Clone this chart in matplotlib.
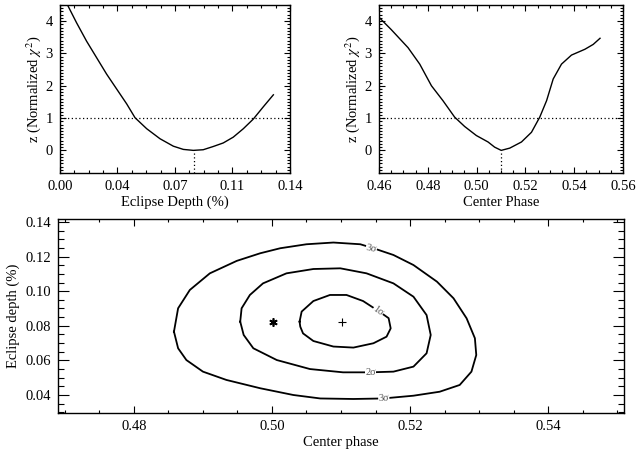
import numpy as np
import matplotlib.pyplot as plt
from matplotlib.ticker import MultipleLocator, FixedLocator

plt.rcParams['font.family'] = ['Liberation Serif', 'DejaVu Serif']
plt.rcParams['mathtext.fontset'] = 'stix'
plt.rcParams['font.size'] = 10.5

# chi^2 vs eclipse depth
depth = [0.0045, 0.0101, 0.0162, 0.0223, 0.0284, 0.0345, 0.0406, 0.0457,
         0.0528, 0.0609, 0.0690, 0.0751, 0.0812, 0.0872, 0.0933, 0.0994,
         0.1055, 0.1116, 0.1177, 0.1238, 0.1299]
z_depth = [4.51, 3.95, 3.38, 2.87, 2.36, 1.90, 1.44, 1.01,
           0.67, 0.36, 0.13, 0.03, 0.00, 0.02, 0.12, 0.23,
           0.41, 0.67, 0.97, 1.35, 1.72]

# chi^2 vs center phase
phase = [0.4600, 0.4650, 0.4719, 0.4767, 0.4815, 0.4862, 0.4910, 0.4951,
         0.4999, 0.5047, 0.5074, 0.5101, 0.5136, 0.5184, 0.5225, 0.5259,
         0.5287, 0.5314, 0.5348, 0.5389, 0.5444, 0.5478, 0.5506]
z_phase = [4.12, 3.74, 3.18, 2.67, 2.00, 1.54, 1.03, 0.74,
           0.46, 0.26, 0.10, 0.00, 0.07, 0.26, 0.56, 1.03,
           1.54, 2.21, 2.67, 2.95, 3.13, 3.28, 3.47]

best_depth = 0.0818
best_phase = 0.5101

# confidence contours (center phase, eclipse depth %)
c3_x = [0.4858, 0.4864, 0.4881, 0.4910, 0.4949, 0.4983, 0.5012, 0.5050, 0.5089,
        0.5128, 0.5147, 0.5176, 0.5205, 0.5239, 0.5263, 0.5282, 0.5294, 0.5296,
        0.5289, 0.5272, 0.5243, 0.5205, 0.5161, 0.5118, 0.5070, 0.5031, 0.4983,
        0.4934, 0.4900, 0.4876, 0.4864, 0.4858]
c3_y = [0.0766, 0.0901, 0.1007, 0.1103, 0.1175, 0.1219, 0.1248, 0.1271, 0.1281,
        0.1271, 0.1248, 0.1209, 0.1151, 0.1055, 0.0959, 0.0843, 0.0728, 0.0631,
        0.0535, 0.0458, 0.0419, 0.0396, 0.0380, 0.0377, 0.0380, 0.0400, 0.0439,
        0.0487, 0.0535, 0.0602, 0.0670, 0.0766]
c2_x = [0.4954, 0.4956, 0.4968, 0.4987, 0.5021, 0.5060, 0.5099, 0.5137, 0.5176,
        0.5205, 0.5224, 0.5230, 0.5224, 0.5205, 0.5176, 0.5142, 0.5103, 0.5055,
        0.5007, 0.4973, 0.4959, 0.4954]
c2_y = [0.0824, 0.0901, 0.0978, 0.1045, 0.1103, 0.1128, 0.1132, 0.1103, 0.1045,
        0.0968, 0.0862, 0.0747, 0.0641, 0.0564, 0.0535, 0.0531, 0.0531, 0.0550,
        0.0602, 0.0670, 0.0747, 0.0824]
c1_x = [0.5040, 0.5043, 0.5060, 0.5084, 0.5108, 0.5132, 0.5154, 0.5169, 0.5172,
        0.5166, 0.5147, 0.5118, 0.5089, 0.5060, 0.5045, 0.5041, 0.5040]
c1_y = [0.0824, 0.0882, 0.0943, 0.0978, 0.0978, 0.0943, 0.0886, 0.0844, 0.0785,
        0.0737, 0.0699, 0.0674, 0.0680, 0.0712, 0.0756, 0.0795, 0.0824]

# contour label positions
lab_x = [0.5144, 0.5154, 0.5143, 0.5162]
lab_y = [0.1248, 0.0886, 0.0531, 0.0380]
lab_txt = ['3σ', '1σ', '2σ', '3σ']
lab_rot = [-12, -35, 0, 2]

star_pt = (0.5001, 0.0824)
plus_pt = (0.5101, 0.0824)


def idl_style(ax, majlen, minlen):
    ax.tick_params(which='both', direction='in', top=True, right=True,
                   width=0.8, labelsize=10.5, pad=5)
    ax.tick_params(which='major', length=majlen)
    ax.tick_params(which='minor', length=minlen)
    for s in ax.spines.values():
        s.set_linewidth(1.0)


fig = plt.figure(figsize=(6.36, 4.55), dpi=100)

# top left
ax1 = fig.add_axes([0.0943, 0.6198, 0.3616, 0.3692])
ax1.plot(depth, z_depth, color='black', lw=1.0)
ax1.axhline(1, color='black', lw=0.9, ls=(0, (1, 2)))
ax1.plot([best_depth, best_depth], [-0.7, 0], color='black', lw=0.9, ls=(0, (1, 2)))
ax1.set_xlim(0, 0.14)
ax1.set_ylim(-0.7, 4.5)
ax1.xaxis.set_major_locator(FixedLocator([0, 0.035, 0.07, 0.105, 0.14]))
ax1.set_xticklabels(['0.00', '0.04', '0.07', '0.11', '0.14'])
ax1.xaxis.set_minor_locator(MultipleLocator(0.00875))
ax1.yaxis.set_major_locator(MultipleLocator(1))
ax1.yaxis.set_minor_locator(MultipleLocator(0.1))
idl_style(ax1, 4, 2)
ax1.set_xlabel('Eclipse Depth (%)', labelpad=2)
ax1.set_ylabel(r'z (Normalized $\chi^2$)', labelpad=2)

# top right
ax2 = fig.add_axes([0.5959, 0.6198, 0.3836, 0.3692])
ax2.plot(phase, z_phase, color='black', lw=1.0)
ax2.axhline(1, color='black', lw=0.9, ls=(0, (1, 2)))
ax2.plot([best_phase, best_phase], [-0.7, 0], color='black', lw=0.9, ls=(0, (1, 2)))
ax2.set_xlim(0.46, 0.56)
ax2.set_ylim(-0.7, 4.5)
ax2.xaxis.set_major_locator(MultipleLocator(0.02))
ax2.xaxis.set_major_formatter(plt.FormatStrFormatter('%.2f'))
ax2.xaxis.set_minor_locator(MultipleLocator(0.005))
ax2.yaxis.set_major_locator(MultipleLocator(1))
ax2.yaxis.set_minor_locator(MultipleLocator(0.1))
idl_style(ax2, 4, 2)
ax2.set_xlabel('Center Phase', labelpad=2)
ax2.set_ylabel(r'z (Normalized $\chi^2$)', labelpad=2)

# bottom contour plot
ax3 = fig.add_axes([0.0912, 0.0923, 0.8899, 0.4264])
for cx, cy in [(c3_x, c3_y), (c2_x, c2_y), (c1_x, c1_y)]:
    ax3.plot(cx, cy, color='black', lw=1.3, solid_joinstyle='round')
for x, y, t, r in zip(lab_x, lab_y, lab_txt, lab_rot):
    ax3.text(x, y, t, fontsize=7.5, color='#555555', rotation=r,
             ha='center', va='center',
             bbox=dict(facecolor='white', edgecolor='none', pad=0.2))
ax3.plot(*star_pt, marker=(6, 2, 0), color='black', ms=6, mew=1.2)
ax3.plot(*plus_pt, marker='+', color='black', ms=6, mew=0.8)
ax3.set_xlim(0.469, 0.551)
ax3.set_ylim(0.0296, 0.1417)
ax3.xaxis.set_major_locator(MultipleLocator(0.02))
ax3.xaxis.set_major_formatter(plt.FormatStrFormatter('%.2f'))
ax3.xaxis.set_minor_locator(MultipleLocator(0.005))
ax3.yaxis.set_major_locator(MultipleLocator(0.02))
ax3.yaxis.set_major_formatter(plt.FormatStrFormatter('%.2f'))
ax3.yaxis.set_minor_locator(MultipleLocator(0.005))
idl_style(ax3, 5, 2.5)
ax3.tick_params(axis='y', which='major', length=8)
ax3.tick_params(axis='y', which='minor', length=4)
ax3.set_xlabel('Center phase', labelpad=2)
ax3.set_ylabel('Eclipse depth (%)', labelpad=4)

fig.savefig('out.png', dpi=100)
